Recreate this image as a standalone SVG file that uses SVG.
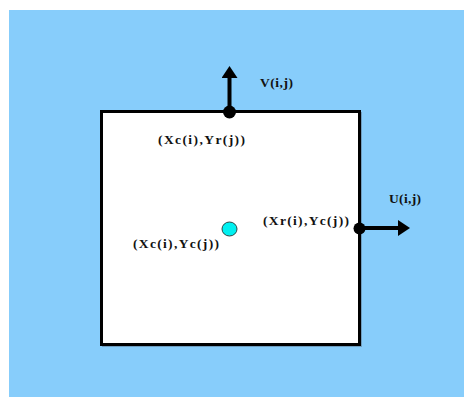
<svg xmlns="http://www.w3.org/2000/svg" width="464" height="397" viewBox="0 0 464 397">
  <style>
    .lbl { font-family: "Liberation Serif", "Times New Roman", serif; font-weight: bold; font-size: 13.5px; fill: #111; }
    .edge { stroke: #000; stroke-width: 4; fill: none; }
    .dot { fill: #000; }
  </style>
  <defs>
    <marker id="head" viewBox="0 0 12 16" refX="1" refY="8" markerWidth="12" markerHeight="16" markerUnits="userSpaceOnUse" orient="auto">
      <path d="M0,0 L12,8 L0,16 Z" fill="#000"/>
    </marker>
  </defs>

  <!-- sky background -->
  <rect x="9" y="10" width="455" height="387" fill="#87CDFB"/>

  <!-- grid cell -->
  <g id="cell">
    <rect x="103" y="113" width="258" height="233" fill="none" stroke="#5f7f99" stroke-width="2" opacity="0.6"/>
    <rect x="101.5" y="111.5" width="258" height="233" fill="#fff" stroke="#000" stroke-width="3"/>
  </g>

  <!-- velocity vectors -->
  <g id="connectors">
    <line class="edge" x1="229.5" y1="111.5" x2="229.5" y2="77" marker-end="url(#head)"/>
    <line class="edge" x1="359.5" y1="228" x2="399" y2="228" marker-end="url(#head)"/>
  </g>

  <g id="v-point">
    <circle class="dot" cx="229.5" cy="112" r="6.5"/>
  </g>
  <g id="u-point">
    <circle class="dot" cx="359.5" cy="228.5" r="6"/>
  </g>
  <g id="center-point">
    <ellipse cx="229.5" cy="229" rx="7.5" ry="7" fill="#00F0F0" stroke="#2a4a4a" stroke-width="1"/>
  </g>

  <!-- labels -->
  <g id="labels">
    <text class="lbl" x="260" y="87" textLength="33" lengthAdjust="spacing">V(i,j)</text>
    <text class="lbl" x="158" y="144" textLength="87" lengthAdjust="spacing">(Xc(i),Yr(j))</text>
    <text class="lbl" x="263" y="225" textLength="86" lengthAdjust="spacing">(Xr(i),Yc(j))</text>
    <text class="lbl" x="133" y="248" textLength="86" lengthAdjust="spacing">(Xc(i),Yc(j))</text>
    <text class="lbl" x="389" y="203" textLength="32" lengthAdjust="spacing">U(i,j)</text>
  </g>
</svg>
